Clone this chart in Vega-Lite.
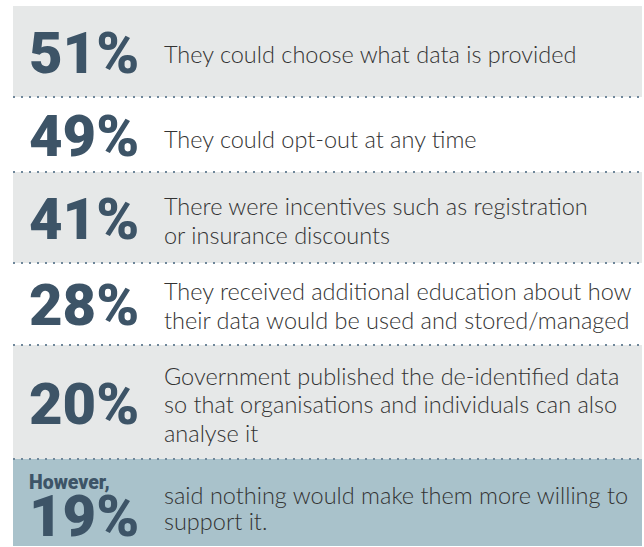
{
  "$schema": "https://vega.github.io/schema/vega-lite/v6.json",
  "background": "white",
  "padding": {"left": 12, "top": 6, "right": 3, "bottom": 1},
  "spacing": 0,
  "bounds": "flush",
  "config": {"view": {"stroke": null}, "concat": {"spacing": 0}},
  "data": {"values": [
    {"n": 1, "pct": 0.51, "label": "They could choose what data is provided"},
    {"n": 2, "pct": 0.49, "label": "They could opt-out at any time"},
    {"n": 3, "pct": 0.41, "label": "There were incentives such as registration\nor insurance discounts"},
    {"n": 4, "pct": 0.28, "label": "They received additional education about how\ntheir data would be used and stored/managed"},
    {"n": 5, "pct": 0.20, "label": "Government published the de-identified data\nso that organisations and individuals can also\nanalyse it"},
    {"n": 6, "pct": 0.19, "lead": "However,", "label": "said nothing would make them more willing to\nsupport it."}
  ]},
  "vconcat": [
    {
      "width": 629, "height": 91,
      "transform": [{"filter": "datum.n === 1"}],
      "encoding": {"y": {"field": "n", "type": "ordinal", "axis": null, "scale": {"paddingInner": 0, "paddingOuter": 0}}},
      "layer": [
        {"mark": {"type": "rect", "fill": "#e6e8e8"}, "encoding": {"x": {"datum": 0, "type": "quantitative", "scale": {"domain": [0, 1]}, "axis": null}, "x2": {"datum": 1}}},
        {"mark": {"type": "text", "font": "Roboto", "fontWeight": 900, "fontSize": 58, "fill": "#3d5467", "align": "left", "baseline": "middle", "dy": 4}, "encoding": {"x": {"datum": 0.0254, "type": "quantitative"}, "text": {"field": "pct", "type": "quantitative", "format": ".0%"}}},
        {"mark": {"type": "text", "font": "Lato", "fontWeight": 300, "fontSize": 23.5, "fill": "#333333", "align": "left", "baseline": "middle", "lineBreak": "\n", "lineHeight": 29, "dy": 4}, "encoding": {"x": {"datum": 0.24, "type": "quantitative"}, "text": {"field": "label"}}}
      ]
    },
    {
      "width": 629, "height": 75,
      "transform": [{"filter": "datum.n === 2"}],
      "encoding": {"y": {"field": "n", "type": "ordinal", "axis": null, "scale": {"paddingInner": 0, "paddingOuter": 0}}},
      "layer": [
        {"mark": {"type": "rect", "fill": "#ffffff"}, "encoding": {"x": {"datum": 0, "type": "quantitative", "scale": {"domain": [0, 1]}, "axis": null}, "x2": {"datum": 1}}},
        {"mark": {"type": "rule", "stroke": "#6f879a", "strokeWidth": 2, "strokeDash": [2, 6]}, "encoding": {"y": {"field": "n", "type": "ordinal", "bandPosition": 0}, "x": {"datum": 0, "type": "quantitative"}, "x2": {"datum": 1}}},
        {"mark": {"type": "text", "font": "Roboto", "fontWeight": 900, "fontSize": 58, "fill": "#3d5467", "align": "left", "baseline": "middle", "dy": 4.5}, "encoding": {"x": {"datum": 0.0254, "type": "quantitative"}, "text": {"field": "pct", "type": "quantitative", "format": ".0%"}}},
        {"mark": {"type": "text", "font": "Lato", "fontWeight": 300, "fontSize": 23.5, "fill": "#333333", "align": "left", "baseline": "middle", "lineBreak": "\n", "lineHeight": 29, "dy": 6}, "encoding": {"x": {"datum": 0.24, "type": "quantitative"}, "text": {"field": "label"}}}
      ]
    },
    {
      "width": 629, "height": 91,
      "transform": [{"filter": "datum.n === 3"}],
      "encoding": {"y": {"field": "n", "type": "ordinal", "axis": null, "scale": {"paddingInner": 0, "paddingOuter": 0}}},
      "layer": [
        {"mark": {"type": "rect", "fill": "#e6e8e8"}, "encoding": {"x": {"datum": 0, "type": "quantitative", "scale": {"domain": [0, 1]}, "axis": null}, "x2": {"datum": 1}}},
        {"mark": {"type": "rule", "stroke": "#6f879a", "strokeWidth": 2, "strokeDash": [2, 6]}, "encoding": {"y": {"field": "n", "type": "ordinal", "bandPosition": 0}, "x": {"datum": 0, "type": "quantitative"}, "x2": {"datum": 1}}},
        {"mark": {"type": "text", "font": "Roboto", "fontWeight": 900, "fontSize": 58, "fill": "#3d5467", "align": "left", "baseline": "middle", "dy": 4.5}, "encoding": {"x": {"datum": 0.0254, "type": "quantitative"}, "text": {"field": "pct", "type": "quantitative", "format": ".0%"}}},
        {"mark": {"type": "text", "font": "Lato", "fontWeight": 300, "fontSize": 23.5, "fill": "#333333", "align": "left", "baseline": "middle", "lineBreak": "\n", "lineHeight": 29, "dy": -10}, "encoding": {"x": {"datum": 0.24, "type": "quantitative"}, "text": {"field": "label"}}}
      ]
    },
    {
      "width": 629, "height": 82,
      "transform": [{"filter": "datum.n === 4"}],
      "encoding": {"y": {"field": "n", "type": "ordinal", "axis": null, "scale": {"paddingInner": 0, "paddingOuter": 0}}},
      "layer": [
        {"mark": {"type": "rect", "fill": "#ffffff"}, "encoding": {"x": {"datum": 0, "type": "quantitative", "scale": {"domain": [0, 1]}, "axis": null}, "x2": {"datum": 1}}},
        {"mark": {"type": "rule", "stroke": "#6f879a", "strokeWidth": 2, "strokeDash": [2, 6]}, "encoding": {"y": {"field": "n", "type": "ordinal", "bandPosition": 0}, "x": {"datum": 0, "type": "quantitative"}, "x2": {"datum": 1}}},
        {"mark": {"type": "text", "font": "Roboto", "fontWeight": 900, "fontSize": 58, "fill": "#3d5467", "align": "left", "baseline": "middle", "dy": 4}, "encoding": {"x": {"datum": 0.0254, "type": "quantitative"}, "text": {"field": "pct", "type": "quantitative", "format": ".0%"}}},
        {"mark": {"type": "text", "font": "Lato", "fontWeight": 300, "fontSize": 23.5, "fill": "#333333", "align": "left", "baseline": "middle", "lineBreak": "\n", "lineHeight": 29, "dy": -11.5}, "encoding": {"x": {"datum": 0.24, "type": "quantitative"}, "text": {"field": "label"}}}
      ]
    },
    {
      "width": 629, "height": 114,
      "transform": [{"filter": "datum.n === 5"}],
      "encoding": {"y": {"field": "n", "type": "ordinal", "axis": null, "scale": {"paddingInner": 0, "paddingOuter": 0}}},
      "layer": [
        {"mark": {"type": "rect", "fill": "#e6e8e8"}, "encoding": {"x": {"datum": 0, "type": "quantitative", "scale": {"domain": [0, 1]}, "axis": null}, "x2": {"datum": 1}}},
        {"mark": {"type": "rule", "stroke": "#6f879a", "strokeWidth": 2, "strokeDash": [2, 6]}, "encoding": {"y": {"field": "n", "type": "ordinal", "bandPosition": 0}, "x": {"datum": 0, "type": "quantitative"}, "x2": {"datum": 1}}},
        {"mark": {"type": "text", "font": "Roboto", "fontWeight": 900, "fontSize": 58, "fill": "#3d5467", "align": "left", "baseline": "middle", "dy": 5}, "encoding": {"x": {"datum": 0.0254, "type": "quantitative"}, "text": {"field": "pct", "type": "quantitative", "format": ".0%"}}},
        {"mark": {"type": "text", "font": "Lato", "fontWeight": 300, "fontSize": 23.5, "fill": "#333333", "align": "left", "baseline": "middle", "lineBreak": "\n", "lineHeight": 28.5, "dy": -24.5}, "encoding": {"x": {"datum": 0.24, "type": "quantitative"}, "text": {"field": "label"}}}
      ]
    },
    {
      "width": 629, "height": 87,
      "transform": [{"filter": "datum.n === 6"}],
      "encoding": {"y": {"field": "n", "type": "ordinal", "axis": null, "scale": {"paddingInner": 0, "paddingOuter": 0}}},
      "layer": [
        {"mark": {"type": "rect", "fill": "#a9c2cb"}, "encoding": {"x": {"datum": 0, "type": "quantitative", "scale": {"domain": [0, 1]}, "axis": null}, "x2": {"datum": 1}}},
        {"mark": {"type": "rule", "stroke": "#6f879a", "strokeWidth": 2, "strokeDash": [2, 6]}, "encoding": {"y": {"field": "n", "type": "ordinal", "bandPosition": 0}, "x": {"datum": 0, "type": "quantitative"}, "x2": {"datum": 1}}},
        {"mark": {"type": "text", "font": "Roboto", "fontWeight": 900, "fontSize": 19.5, "fill": "#3d5467", "align": "left", "baseline": "middle", "dy": -20}, "encoding": {"x": {"datum": 0.0254, "type": "quantitative"}, "text": {"field": "lead"}}},
        {"mark": {"type": "text", "font": "Roboto", "fontWeight": 900, "fontSize": 58, "fill": "#3d5467", "align": "left", "baseline": "middle", "dy": 16}, "encoding": {"x": {"datum": 0.0254, "type": "quantitative"}, "text": {"field": "pct", "type": "quantitative", "format": ".0%"}}},
        {"mark": {"type": "text", "font": "Lato", "fontWeight": 300, "fontSize": 23.5, "fill": "#333333", "align": "left", "baseline": "middle", "lineBreak": "\n", "lineHeight": 26.5, "dy": -6}, "encoding": {"x": {"datum": 0.24, "type": "quantitative"}, "text": {"field": "label"}}}
      ]
    }
  ]
}
